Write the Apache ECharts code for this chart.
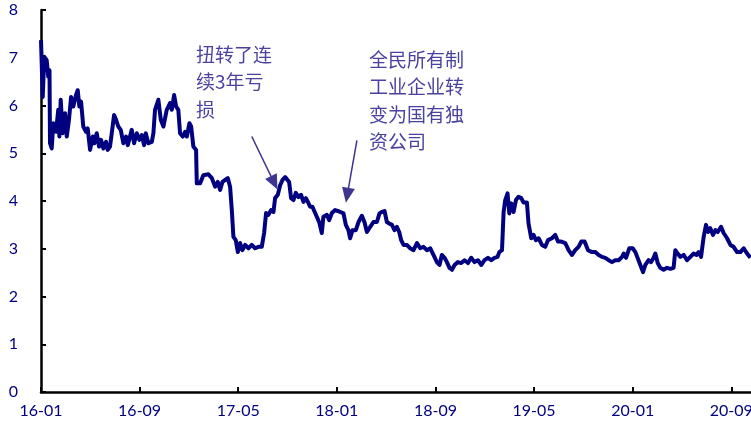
<!DOCTYPE html>
<html>
<head>
<meta charset="utf-8">
<script src="https://cdn.jsdelivr.net/npm/echarts@6/dist/echarts.min.js"></script>
<style>
  html, body { margin: 0; padding: 0; background: #fff; }
  #main { width: 751px; height: 428px; }
</style>
</head>
<body>
<div id="main"></div>
<script>
// x轴刻度标签（每8个月一个）
var tickLabels = ['16-01', '16-09', '17-05', '18-01', '18-09', '19-05', '20-01', '20-09'];

// 自2016年1月起的月数
var months = [
  0, 0.14, 0.27, 0.46, 0.59, 0.69, 0.73, 0.87, 1.00, 1.22, 1.40, 1.49, 1.60, 1.76, 1.95, 2.09, 2.27, 2.44, 2.62, 2.84,
  2.98, 3.11, 3.25, 3.43, 3.65, 3.79, 3.98, 4.20, 4.33, 4.52, 4.71, 4.87, 5.06, 5.28, 5.41, 5.60, 5.93, 6.09, 6.27, 6.47,
  6.68, 6.90, 7.04, 7.36, 7.55, 7.77, 7.98, 8.17, 8.36, 8.50, 8.71, 8.99, 9.12, 9.25, 9.52, 9.72, 9.93, 10.20, 10.47, 10.61,
  10.80, 10.96, 11.14, 11.28, 11.50, 11.69, 11.83, 12.04, 12.18, 12.36, 12.58, 12.64,
  12.91, 13.17, 13.58, 13.86, 14.12, 14.34, 14.53, 14.72, 14.94, 15.15, 15.34, 15.48, 15.61, 15.80, 15.97, 16.15, 16.34, 16.56, 16.83, 17.10,
  17.37, 17.64, 17.91, 18.10, 18.26, 18.45, 18.67, 18.86, 18.99, 19.21, 19.40, 19.59, 19.81, 19.94, 20.13, 20.29, 20.48, 20.67, 20.89, 21.10,
  21.29, 21.49, 21.65, 21.83, 22.02, 22.24, 22.43, 22.59, 22.78, 22.91, 23.19, 23.38, 23.60, 23.86,
  24.19, 24.54, 24.73, 24.94, 25.08, 25.27, 25.54, 25.76, 26.03, 26.24, 26.44, 26.71, 26.97, 27.25, 27.46, 27.65, 27.87, 28.06, 28.25, 28.47,
  28.68, 28.87, 29.06, 29.22, 29.41, 29.68, 29.95, 30.22, 30.50, 30.76, 31.03, 31.31, 31.58, 31.84, 32.12, 32.33, 32.52, 32.74, 32.93, 33.14,
  33.34, 33.55, 33.82, 34.09, 34.36, 34.64, 34.90, 35.17, 35.45, 35.71, 35.98, 36.26, 36.53, 36.79, 37.04, 37.18, 37.40,
  37.53, 37.66, 37.85, 37.99, 38.15, 38.34, 38.53, 38.74, 38.96, 39.15, 39.42, 39.55, 39.77, 39.96, 40.15, 40.37, 40.64, 40.91, 41.13, 41.45,
  41.72, 41.94, 42.21, 42.53, 42.80, 43.08, 43.34, 43.61, 43.83, 44.10, 44.38, 44.70, 44.97, 45.24, 45.51, 45.78, 46.05, 46.32, 46.59, 46.86,
  47.14, 47.27, 47.46, 47.73, 48.00, 48.22,
  48.56, 48.84, 49.03, 49.29, 49.49, 49.70, 49.84, 50.03, 50.24, 50.51, 50.79, 51.06, 51.32, 51.46, 51.65, 51.87, 52.14, 52.41, 52.68, 52.95,
  53.17, 53.35, 53.55, 53.76, 53.95, 54.12, 54.30, 54.52, 54.71, 54.90, 55.17, 55.38, 55.66, 55.93, 56.19, 56.47, 56.74, 57.01, 57.28, 57.55
];

var values = [
  7.37, 6.18, 7.02, 6.95, 6.6, 6.74, 5.21, 5.1, 5.63, 5.45, 5.91, 5.35, 6.12, 5.42, 5.84, 5.35, 5.7, 6.18, 5.98, 6.22,
  6.32, 5.98, 6.08, 5.56, 5.45, 5.52, 5.07, 5.35, 5.21, 5.42, 5.14, 5.28, 5.1, 5.24, 5.07, 5.14, 5.8, 5.7, 5.56, 5.49,
  5.21, 5.35, 5.17, 5.49, 5.21, 5.42, 5.28, 5.38, 5.17, 5.42, 5.21, 5.24, 5.42, 5.91, 6.12, 5.7, 5.56, 5.91, 6.05, 5.91,
  6.22, 5.98, 5.91, 5.42, 5.35, 5.45, 5.35, 5.63, 5.56, 5.14, 5.07, 4.37,
  4.37, 4.54, 4.56, 4.48, 4.3, 4.4, 4.23, 4.4, 4.44, 4.48, 4.3, 3.81, 3.25, 3.18, 2.93, 3.12, 2.97, 3.08, 3.01, 3.08,
  3.01, 3.04, 3.04, 3.33, 3.75, 3.71, 3.81, 3.77, 4.06, 4.13, 4.33, 4.44, 4.5, 4.52, 4.4, 4.06, 4.02, 4.17, 4.08, 4.13,
  3.98, 4.06, 3.98, 3.88, 3.88, 3.75, 3.64, 3.54, 3.33, 3.67, 3.71, 3.6, 3.75, 3.81,
  3.78, 3.74, 3.5, 3.39, 3.22, 3.39, 3.39, 3.56, 3.69, 3.56, 3.35, 3.46, 3.56, 3.56, 3.74, 3.77, 3.79, 3.56, 3.53, 3.5,
  3.39, 3.46, 3.35, 3.18, 3.08, 3.08, 3.01, 2.97, 3.12, 3.01, 3.04, 2.97, 3.01, 2.87, 2.72, 2.66, 2.87, 2.81, 2.72, 2.6,
  2.56, 2.66, 2.72, 2.7, 2.76, 2.7, 2.81, 2.72, 2.76, 2.66, 2.76, 2.81, 2.76, 2.81, 2.83, 2.93, 2.97,
  3.77, 4.02, 4.16, 3.74, 3.95, 3.77, 4.02, 4.09, 4.06, 3.97, 3.97, 3.53, 3.22, 3.29, 3.18, 3.22, 3.08, 3.04, 3.18, 3.22,
  3.29, 3.15, 3.15, 3.12, 2.97, 2.87, 2.97, 3.04, 3.15, 3.15, 2.97, 2.93, 2.93, 2.87, 2.83, 2.81, 2.76, 2.72, 2.76, 2.76,
  2.83, 2.9, 2.81, 3.01, 3.01, 2.93,
  2.7, 2.51, 2.66, 2.76, 2.72, 2.81, 2.9, 2.7, 2.6, 2.56, 2.6, 2.58, 2.6, 2.97, 2.9, 2.83, 2.87, 2.76, 2.83, 2.9,
  2.87, 2.93, 2.83, 3.25, 3.5, 3.35, 3.43, 3.29, 3.39, 3.35, 3.46, 3.33, 3.22, 3.08, 3.04, 2.93, 2.93, 3.01, 2.9, 2.81
];

// 注释文字
var note1 = '扭转了连\n续3年亏\n损';
var note2 = '全民所有制\n工业企业转\n变为国有独\n资公司';

var tickPos = tickLabels.map(function (_, i) { return i * 8; });
var seriesData = months.map(function (m, i) { return [m, values[i]]; });

var labelColor = '#000080';
var noteColor = '#4a42a0';
var arrowColor = '#3d3590';

var myChart = echarts.init(document.getElementById('main'));

var option = {
    animation: false,
    grid: { left: 41, right: 0, top: 10, bottom: 36, containLabel: false, outerBoundsMode: 'none' },
    xAxis: {
        type: 'value',
        min: 0,
        max: 57.6,
        interval: 8,
        splitLine: { show: false },
        axisLine: { lineStyle: { color: '#000', width: 2.5 } },
        axisTick: { inside: true, length: 5, customValues: tickPos, lineStyle: { color: '#000', width: 2 } },
        axisLabel: {
            customValues: tickPos,
            color: labelColor,
            fontSize: 16,
            fontFamily: 'Lato',
            margin: 11,
            formatter: function (v) { return tickLabels[Math.round(v / 8)] || ''; }
        }
    },
    yAxis: {
        type: 'value',
        min: 0,
        max: 8,
        interval: 1,
        splitLine: { show: false },
        axisLine: { show: true, lineStyle: { color: '#000', width: 2.5 } },
        axisTick: { show: true, inside: true, length: 5, lineStyle: { color: '#000', width: 2 } },
        axisLabel: { color: labelColor, fontSize: 16, fontFamily: 'Lato', margin: 23 }
    },
    series: [{
        type: 'line',
        data: seriesData,
        showSymbol: false,
        lineStyle: { color: '#000080', width: 4, join: 'round' },
        markLine: {
            silent: true,
            animation: false,
            label: { show: false },
            lineStyle: { color: arrowColor, width: 1.5, type: 'solid' },
            symbol: ['none', 'triangle'],
            symbolSize: [13, 15],
            data: [
                [{ coord: [17.10, 5.35] }, { coord: [18.92, 4.38] }],
                [{ coord: [25.63, 5.27] }, { coord: [24.84, 4.12] }]
            ]
        }
    }],
    graphic: [
        {
            type: 'text', left: 196, top: 41,
            style: { text: note1, fill: noteColor, font: '19px "Noto Sans CJK SC"', lineHeight: 27.5 }
        },
        {
            type: 'text', left: 369, top: 46,
            style: { text: note2, fill: noteColor, font: '19px "Noto Sans CJK SC"', lineHeight: 27.5 }
        }
    ]
};

myChart.setOption(option);
</script>
</body>
</html>
